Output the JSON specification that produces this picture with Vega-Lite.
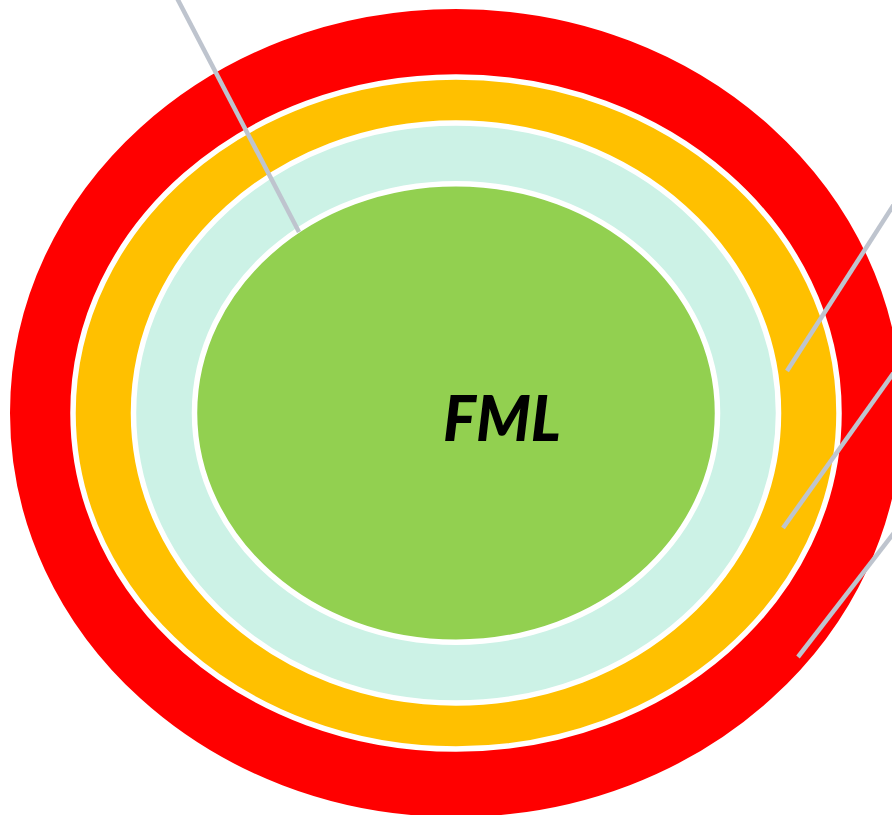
{
  "$schema": "https://vega.github.io/schema/vega-lite/v6.json",
  "width": 892,
  "height": 815,
  "autosize": {"type": "none"},
  "padding": 0,
  "background": "white",
  "config": {"view": {"stroke": null}},
  "datasets": {
    "rings": [
      {"ring": "Outer", "x": 456, "y": 413},
      {"ring": "Third", "x": 456, "y": 413},
      {"ring": "Second", "x": 456, "y": 413},
      {"ring": "Core", "x": 456, "y": 413}
    ],
    "leaders": [
      {"id": 1, "x": 175.4, "y": -5, "x2": 299, "y2": 232},
      {"id": 2, "x": 900, "y": 195, "x2": 787, "y2": 371},
      {"id": 3, "x": 900, "y": 364, "x2": 783, "y2": 528},
      {"id": 4, "x": 900, "y": 525, "x2": 798, "y2": 657}
    ],
    "labels": [{"label": "FML", "x": 502, "y": 441}]
  },
  "layer": [
    {
      "data": {"name": "rings"},
      "transform": [{"filter": "datum.ring === 'Outer'"}],
      "mark": {"type": "point", "filled": true, "opacity": 1, "fill": "#FF0000", "stroke": "white", "strokeWidth": 5.5, "size": 805506,
        "shape": "M1,0C1,0.5006 0.5523,0.9064 0,0.9064C-0.5523,0.9064 -1,0.5006 -1,0C-1,-0.5006 -0.5523,-0.9064 0,-0.9064C0.5523,-0.9064 1,-0.5006 1,0Z"},
      "encoding": {
        "x": {"field": "x", "type": "quantitative", "scale": {"domain": [0, 892], "nice": false, "zero": false}, "axis": null},
        "y": {"field": "y", "type": "quantitative", "scale": {"domain": [815, 0], "nice": false, "zero": false}, "axis": null}
      }
    },
    {
      "data": {"name": "rings"},
      "transform": [{"filter": "datum.ring === 'Third'"}],
      "mark": {"type": "point", "filled": true, "opacity": 1, "fill": "#FFC000", "stroke": "white", "strokeWidth": 5.5, "size": 586756,
        "shape": "M1,0C1,0.4845 0.5523,0.8773 0,0.8773C-0.5523,0.8773 -1,0.4845 -1,0C-1,-0.4845 -0.5523,-0.8773 0,-0.8773C0.5523,-0.8773 1,-0.4845 1,0Z"},
      "encoding": {
        "x": {"field": "x", "type": "quantitative", "scale": {"domain": [0, 892], "nice": false, "zero": false}, "axis": null},
        "y": {"field": "y", "type": "quantitative", "scale": {"domain": [815, 0], "nice": false, "zero": false}, "axis": null}
      }
    },
    {
      "data": {"name": "rings"},
      "transform": [{"filter": "datum.ring === 'Second'"}],
      "mark": {"type": "point", "filled": true, "opacity": 1, "fill": "#CCF2E6", "stroke": "white", "strokeWidth": 5.5, "size": 416025,
        "shape": "M1,0C1,0.4966 0.5523,0.8992 0,0.8992C-0.5523,0.8992 -1,0.4966 -1,0C-1,-0.4966 -0.5523,-0.8992 0,-0.8992C0.5523,-0.8992 1,-0.4966 1,0Z"},
      "encoding": {
        "x": {"field": "x", "type": "quantitative", "scale": {"domain": [0, 892], "nice": false, "zero": false}, "axis": null},
        "y": {"field": "y", "type": "quantitative", "scale": {"domain": [815, 0], "nice": false, "zero": false}, "axis": null}
      }
    },
    {
      "data": {"name": "rings"},
      "transform": [{"filter": "datum.ring === 'Core'"}],
      "mark": {"type": "point", "filled": true, "opacity": 1, "fill": "#92D050", "stroke": "white", "strokeWidth": 5.5, "size": 273529,
        "shape": "M1,0C1,0.4842 0.5523,0.8767 0,0.8767C-0.5523,0.8767 -1,0.4842 -1,0C-1,-0.4842 -0.5523,-0.8767 0,-0.8767C0.5523,-0.8767 1,-0.4842 1,0Z"},
      "encoding": {
        "x": {"field": "x", "type": "quantitative", "scale": {"domain": [0, 892], "nice": false, "zero": false}, "axis": null},
        "y": {"field": "y", "type": "quantitative", "scale": {"domain": [815, 0], "nice": false, "zero": false}, "axis": null}
      }
    },
    {
      "data": {"name": "leaders"},
      "mark": {"type": "rule", "color": "#BEC4CE", "strokeWidth": 4.5},
      "encoding": {
        "x": {"field": "x", "type": "quantitative", "scale": {"domain": [0, 892], "nice": false, "zero": false}, "axis": null},
        "y": {"field": "y", "type": "quantitative", "scale": {"domain": [815, 0], "nice": false, "zero": false}, "axis": null},
        "x2": {"field": "x2"},
        "y2": {"field": "y2"}
      }
    },
    {
      "data": {"name": "labels"},
      "mark": {"type": "text", "font": "Lato", "fontWeight": 900, "fontStyle": "italic", "fontSize": 62, "align": "center", "baseline": "alphabetic", "color": "black"},
      "encoding": {
        "x": {"field": "x", "type": "quantitative", "scale": {"domain": [0, 892], "nice": false, "zero": false}, "axis": null},
        "y": {"field": "y", "type": "quantitative", "scale": {"domain": [815, 0], "nice": false, "zero": false}, "axis": null},
        "text": {"field": "label"}
      }
    }
  ]
}
